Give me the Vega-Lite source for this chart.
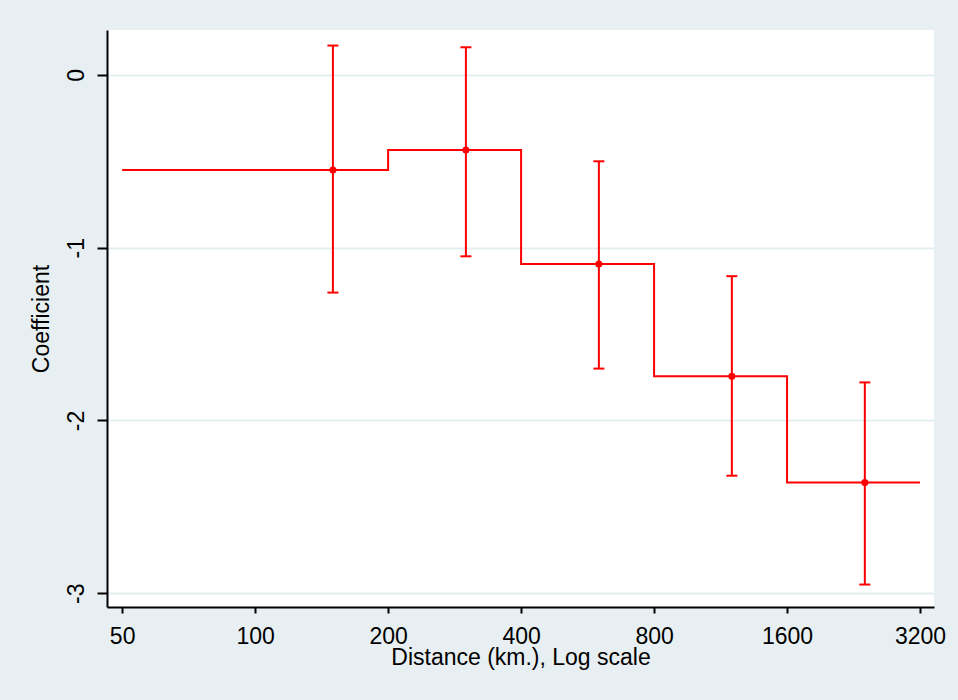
{
  "$schema": "https://vega.github.io/schema/vega-lite/v6.json",
  "width": 827,
  "height": 577,
  "autosize": "none",
  "padding": {"left": 107, "top": 30, "right": 24, "bottom": 93},
  "background": "#e8eff2",
  "config": {
    "view": {"fill": "white", "stroke": null},
    "font": "Liberation Sans"
  },
  "datasets": {
    "steps": [
      {"distance": 50, "coef": -0.55},
      {"distance": 200, "coef": -0.435},
      {"distance": 400, "coef": -1.095},
      {"distance": 800, "coef": -1.745},
      {"distance": 1600, "coef": -2.36},
      {"distance": 3200, "coef": -2.36}
    ],
    "est": [
      {"distance": 150, "coef": -0.55, "upper": 0.17, "lower": -1.26},
      {"distance": 300, "coef": -0.435, "upper": 0.16, "lower": -1.05},
      {"distance": 600, "coef": -1.095, "upper": -0.5, "lower": -1.7},
      {"distance": 1200, "coef": -1.745, "upper": -1.165, "lower": -2.32},
      {"distance": 2400, "coef": -2.36, "upper": -1.78, "lower": -2.95}
    ]
  },
  "layer": [
    {
      "data": {"name": "steps"},
      "mark": {"type": "line", "interpolate": "step-after", "color": "#ff0000", "strokeWidth": 2},
      "encoding": {
        "x": {
          "field": "distance",
          "type": "quantitative",
          "scale": {"type": "log", "domain": [46.2, 3442], "nice": false},
          "axis": {
            "title": "Distance (km.), Log scale",
            "values": [50, 100, 200, 400, 800, 1600, 3200],
            "format": "d",
            "grid": false,
            "domainColor": "#000000",
            "domainWidth": 2,
            "tickColor": "#000000",
            "tickWidth": 2,
            "tickSize": 6,
            "labelFontSize": 23,
            "labelColor": "#000000",
            "labelPadding": 12,
            "labelFlush": false,
            "titleFontSize": 23,
            "titleFontWeight": "normal",
            "titleColor": "#000000",
            "titlePadding": -2
          }
        },
        "y": {
          "field": "coef",
          "type": "quantitative",
          "scale": {"domain": [-3.08, 0.26], "nice": false, "zero": false},
          "axis": {
            "title": "Coefficient",
            "values": [0, -1, -2, -3],
            "labelExpr": "toString(datum.value)",
            "grid": true,
            "gridColor": "#e4edf0",
            "gridWidth": 2,
            "domainColor": "#000000",
            "domainWidth": 2,
            "tickColor": "#000000",
            "tickWidth": 2,
            "tickSize": 10,
            "labelFontSize": 23,
            "labelColor": "#000000",
            "labelAngle": 270,
            "labelAlign": "center",
            "labelBaseline": "alphabetic",
            "labelPadding": 14,
            "titleFontSize": 23,
            "titleFontWeight": "normal",
            "titleColor": "#000000",
            "titlePadding": 12
          }
        }
      }
    },
    {
      "data": {"name": "est"},
      "mark": {"type": "rule", "color": "#ff0000", "strokeWidth": 2},
      "encoding": {
        "x": {"field": "distance", "type": "quantitative"},
        "y": {"field": "upper", "type": "quantitative"},
        "y2": {"field": "lower"}
      }
    },
    {
      "data": {"name": "est"},
      "mark": {"type": "tick", "orient": "horizontal", "color": "#ff0000", "size": 11, "thickness": 2, "opacity": 1},
      "encoding": {
        "x": {"field": "distance", "type": "quantitative"},
        "y": {"field": "upper", "type": "quantitative"}
      }
    },
    {
      "data": {"name": "est"},
      "mark": {"type": "tick", "orient": "horizontal", "color": "#ff0000", "size": 11, "thickness": 2, "opacity": 1},
      "encoding": {
        "x": {"field": "distance", "type": "quantitative"},
        "y": {"field": "lower", "type": "quantitative"}
      }
    },
    {
      "data": {"name": "est"},
      "mark": {"type": "point", "filled": true, "color": "#ff0000", "size": 50, "opacity": 1},
      "encoding": {
        "x": {"field": "distance", "type": "quantitative"},
        "y": {"field": "coef", "type": "quantitative"}
      }
    }
  ]
}
